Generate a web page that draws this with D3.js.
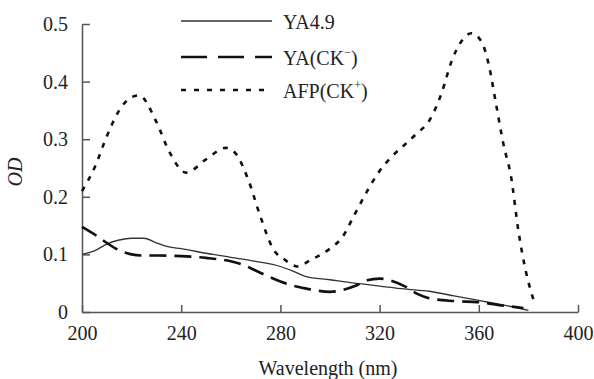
<!DOCTYPE html>
<html>
<head>
<meta charset="utf-8">
<script src="https://cdn.jsdelivr.net/npm/d3@7"></script>
<style>
  body { margin: 0; background: #fff; }
  svg { display: block; }
  svg text { font-family: "Liberation Serif", "DejaVu Serif", "Times New Roman", Times, serif; }
  .axis path, .axis line { stroke: #555; stroke-width: 1.5; }
  .axis text { font-size: 20px; fill: #222; }
</style>
</head>
<body>
<svg id="chart" width="594" height="379"></svg>
<script>
// YA4.9 (solid)
const ya49X = [200, 205, 210, 215, 220, 225, 230, 235, 240, 250, 260, 270, 280, 285, 290, 300, 310, 320, 330, 340, 350, 360, 370, 380];
const ya49Y = [0.100, 0.106, 0.118, 0.125, 0.128, 0.128, 0.120, 0.113, 0.110, 0.102, 0.095, 0.088, 0.079, 0.071, 0.062, 0.056, 0.050, 0.045, 0.040, 0.036, 0.028, 0.020, 0.012, 0.003];

// YA(CK-) (dashed)
const yackX = [200, 205, 210, 215, 220, 225, 230, 240, 250, 260, 265, 270, 275, 280, 285, 290, 295, 300, 305, 310, 315, 320, 325, 330, 335, 340, 350, 360, 370, 378];
const yackY = [0.148, 0.135, 0.120, 0.107, 0.100, 0.098, 0.098, 0.097, 0.094, 0.088, 0.082, 0.072, 0.062, 0.053, 0.046, 0.041, 0.037, 0.035, 0.038, 0.045, 0.055, 0.058, 0.054, 0.045, 0.032, 0.024, 0.019, 0.017, 0.011, 0.007];

// AFP(CK+) (dotted)
const afpX = [200, 205, 210, 215, 220, 223, 230, 235, 242, 250, 258, 262, 267, 272, 277, 282, 287, 292, 300, 305, 310, 315, 320, 325, 330, 335, 340, 345, 349, 353, 357, 361, 364, 367, 370, 373, 376, 379, 382];
const afpY = [0.210, 0.250, 0.305, 0.350, 0.373, 0.376, 0.330, 0.280, 0.242, 0.265, 0.285, 0.275, 0.230, 0.165, 0.110, 0.090, 0.079, 0.090, 0.110, 0.130, 0.170, 0.210, 0.245, 0.270, 0.290, 0.310, 0.332, 0.380, 0.435, 0.470, 0.484, 0.470, 0.430, 0.360, 0.290, 0.235, 0.140, 0.070, 0.022];

const xTicks = [200, 240, 280, 320, 360, 400];
const yTicks = [0, 0.1, 0.2, 0.3, 0.4, 0.5];
const yTickLabels = ["0", "0.1", "0.2", "0.3", "0.4", "0.5"];

const series = [
  { name: "YA4.9", sup: null, xs: ya49X, ys: ya49Y, dash: null, legendDash: null, width: 1.3, color: "#333" },
  { name: "YA(CK", sup: "\u2212", xs: yackX, ys: yackY, dash: "17,8", legendDash: "26,11", width: 2.6, color: "#111" },
  { name: "AFP(CK", sup: "+", xs: afpX, ys: afpY, dash: "5,7", legendDash: "5,8", width: 2.6, color: "#111" }
];

const svg = d3.select("#chart");
const margin = { left: 82, top: 24, right: 16, bottom: 67 };
const plotW = 594 - margin.left - margin.right;
const plotH = 379 - margin.top - margin.bottom;

const x = d3.scaleLinear().domain([200, 400]).range([0, plotW]);
const y = d3.scaleLinear().domain([0, 0.5]).range([plotH, 0]);

const g = svg.append("g").attr("transform", "translate(" + margin.left + "," + margin.top + ")");

g.append("g")
  .attr("class", "axis")
  .call(d3.axisBottom(x).tickValues(xTicks).tickFormat(d3.format("d")).tickSize(-7).tickSizeOuter(0).tickPadding(14))
  .attr("transform", "translate(0," + plotH + ")")
  .attr("font-family", null);

g.append("g")
  .attr("class", "axis")
  .call(d3.axisLeft(y).tickValues(yTicks).tickFormat((d, i) => yTickLabels[i]).tickSize(-8).tickSizeOuter(0).tickPadding(14))
  .attr("font-family", null);

const line = d3.line()
  .x(d => x(d[0]))
  .y(d => y(d[1]))
  .curve(d3.curveMonotoneX);

series.forEach(s => {
  const pts = s.xs.map((v, i) => [v, s.ys[i]]);
  g.append("path")
    .datum(pts)
    .attr("fill", "none")
    .attr("stroke", s.color)
    .attr("stroke-width", s.width)
    .attr("stroke-dasharray", s.dash)
    .attr("d", line);
});

// legend
const legendY = [21, 57, 90];
series.forEach((s, i) => {
  svg.append("line")
    .attr("x1", 181).attr("x2", 272)
    .attr("y1", legendY[i]).attr("y2", legendY[i])
    .attr("stroke", s.color)
    .attr("stroke-width", s.width)
    .attr("stroke-dasharray", s.legendDash);
  const t = svg.append("text")
    .attr("x", 283).attr("y", legendY[i] + 8)
    .attr("font-size", 20).attr("fill", "#222")
    .text(s.name);
  if (s.sup) {
    t.append("tspan").attr("font-size", 12).attr("dy", -9).text(s.sup);
    t.append("tspan").attr("dy", 9).text(")");
  }
});

// axis titles
svg.append("text")
  .attr("x", margin.left + x(300) - 2).attr("y", 375)
  .attr("text-anchor", "middle")
  .attr("font-size", 20).attr("fill", "#222")
  .text("Wavelength (nm)");

svg.append("text")
  .attr("transform", "translate(22,172) rotate(-90)")
  .attr("text-anchor", "middle")
  .attr("font-size", 20).attr("font-style", "italic").attr("fill", "#222")
  .text("OD");
</script>
</body>
</html>
